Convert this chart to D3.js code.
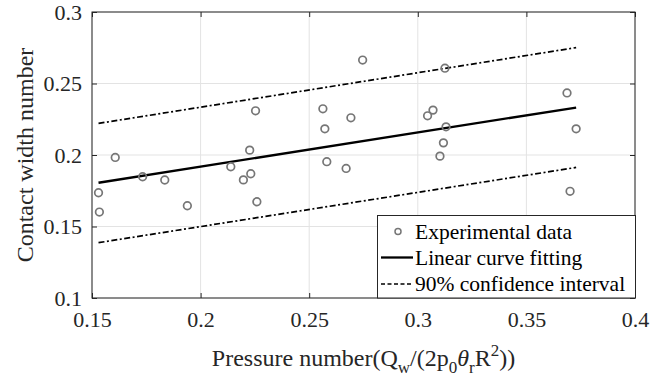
<!DOCTYPE html>
<html>
<head>
<meta charset="utf-8">
<script src="https://cdn.jsdelivr.net/npm/d3@7"></script>
<style>
    body { margin: 0; background: #fff; }
    svg text { font-family: 'Liberation Serif', 'Times New Roman', Times, serif; }
</style>
</head>
<body>
<svg id="chart" width="651" height="383"></svg>
<script>
// experimental points (pressure number, contact width number)
var pressureNum = [0.1530, 0.1534, 0.1607, 0.1733, 0.1835, 0.1939, 0.2139, 0.2226, 0.2197,
    0.2231, 0.2259, 0.2253, 0.2563, 0.2572, 0.2581, 0.2670, 0.2692, 0.2746, 0.3045,
    0.3070, 0.3102, 0.3118, 0.3125, 0.3130, 0.3687, 0.3701, 0.3729];
var contactWidth = [0.1736, 0.1601, 0.1983, 0.1848, 0.1825, 0.1645, 0.1918, 0.2034, 0.1826,
    0.1869, 0.1673, 0.2309, 0.2323, 0.2183, 0.1953, 0.1906, 0.2260, 0.2664, 0.2274,
    0.2314, 0.1992, 0.2085, 0.2607, 0.2197, 0.2434, 0.1746, 0.2183];

// fitted line and 90% band, end points
var fitX = [0.1530, 0.3729];
var fitY = [0.1806, 0.2332];
var upperY = [0.2221, 0.2751];
var lowerY = [0.1387, 0.1913];

var xTicks = [0.15, 0.2, 0.25, 0.3, 0.35, 0.4];
var yTicks = [0.1, 0.15, 0.2, 0.25, 0.3];
var legendLabels = ["Experimental data", "Linear curve fitting", "90% confidence interval"];

var svg = d3.select("#chart");
var pLeft = 92, pRight = 635, pTop = 12, pBottom = 298;
var axisColor = "#262626";
var serif = "'Liberation Serif', 'Times New Roman', serif";

var x = d3.scaleLinear().domain([0.15, 0.4]).range([pLeft, pRight]);
var y = d3.scaleLinear().domain([0.1, 0.3]).range([pBottom, pTop]);

// grid
svg.append("g").selectAll("line").data(xTicks).enter().append("line")
    .attr("x1", function(d){ return x(d); }).attr("x2", function(d){ return x(d); })
    .attr("y1", pTop).attr("y2", pBottom)
    .style("stroke", "#e3e3e3").style("stroke-width", 1);
svg.append("g").selectAll("line").data(yTicks).enter().append("line")
    .attr("x1", pLeft).attr("x2", pRight)
    .attr("y1", function(d){ return y(d); }).attr("y2", function(d){ return y(d); })
    .style("stroke", "#e3e3e3").style("stroke-width", 1);

// axes, ticks inward on all four sides
function styleAxis(g){
    g.attr("font-family", serif).attr("font-size", 22);
    g.select(".domain").remove();
    g.selectAll("line").style("stroke", axisColor);
    g.selectAll("text").style("fill", axisColor);
}
var fmt = function(d){ return String(+d.toFixed(2)); };

svg.append("g").attr("transform", "translate(0," + pBottom + ")")
    .call(d3.axisBottom(x).tickValues(xTicks).tickSize(-5).tickPadding(13).tickFormat(fmt))
    .call(styleAxis);
svg.append("g").attr("transform", "translate(" + pLeft + ",0)")
    .call(d3.axisLeft(y).tickValues(yTicks).tickSize(-5).tickPadding(10).tickFormat(fmt))
    .call(styleAxis);
svg.append("g").attr("transform", "translate(0," + pTop + ")")
    .call(d3.axisTop(x).tickValues(xTicks).tickSize(-5).tickFormat(""))
    .call(styleAxis);
svg.append("g").attr("transform", "translate(" + pRight + ",0)")
    .call(d3.axisRight(y).tickValues(yTicks).tickSize(-5).tickFormat(""))
    .call(styleAxis);

svg.append("rect")
    .attr("x", pLeft).attr("y", pTop)
    .attr("width", pRight - pLeft).attr("height", pBottom - pTop)
    .style("fill", "none").style("stroke", axisColor).style("stroke-width", 1);

// lines
var line = d3.line()
    .x(function(d){ return x(d[0]); })
    .y(function(d){ return y(d[1]); });

svg.append("path")
    .attr("d", line(d3.zip(fitX, upperY)))
    .style("fill", "none").style("stroke", "#000").style("stroke-width", 1.7)
    .style("stroke-dasharray", "6,2.5,2,2.5");
svg.append("path")
    .attr("d", line(d3.zip(fitX, lowerY)))
    .style("fill", "none").style("stroke", "#000").style("stroke-width", 1.7)
    .style("stroke-dasharray", "6,2.5,2,2.5");
svg.append("path")
    .attr("d", line(d3.zip(fitX, fitY)))
    .style("fill", "none").style("stroke", "#000").style("stroke-width", 2.3);

// points
svg.append("g").selectAll("circle").data(d3.zip(pressureNum, contactWidth)).enter().append("circle")
    .attr("cx", function(d){ return x(d[0]); })
    .attr("cy", function(d){ return y(d[1]); })
    .attr("r", 3.8)
    .style("fill", "none").style("stroke", "#767676").style("stroke-width", 1.7);

// legend
var legend = svg.append("g");
legend.append("rect")
    .attr("x", 377.5).attr("y", 215.5).attr("width", 258).attr("height", 82.5)
    .style("fill", "#fff").style("stroke", axisColor).style("stroke-width", 1);

var rowY = [231.5, 257.5, 284];
legend.append("circle")
    .attr("cx", 398).attr("cy", rowY[0]).attr("r", 3)
    .style("fill", "none").style("stroke", "#767676").style("stroke-width", 1.5);
legend.append("line")
    .attr("x1", 381).attr("x2", 413).attr("y1", rowY[1]).attr("y2", rowY[1])
    .style("stroke", "#000").style("stroke-width", 2.3);
legend.append("line")
    .attr("x1", 381).attr("x2", 413).attr("y1", rowY[2]).attr("y2", rowY[2])
    .style("stroke", "#000").style("stroke-width", 1.5)
    .style("stroke-dasharray", "4,2.5");

legend.selectAll("text.lab").data(legendLabels).enter().append("text")
    .attr("class", "lab")
    .attr("x", 415)
    .attr("y", function(d, i){ return rowY[i] + 7; })
    .style("font-size", "21.5px").style("fill", "#000")
    .text(function(d){ return d; });

// axis titles
svg.append("text")
    .attr("transform", "translate(33," + ((pTop + pBottom) / 2) + ") rotate(-90)")
    .attr("text-anchor", "middle")
    .style("font-size", "24px").style("fill", axisColor)
    .text("Contact width number");

var xt = svg.append("text")
    .attr("x", (pLeft + pRight) / 2).attr("y", 366)
    .attr("text-anchor", "middle")
    .style("font-size", "24px").style("fill", axisColor);
xt.append("tspan").text("Pressure number(Q");
xt.append("tspan").attr("dy", 7).style("font-size", "17px").text("w");
xt.append("tspan").attr("dy", -7).text("/(2p");
xt.append("tspan").attr("dy", 7).style("font-size", "17px").text("0");
xt.append("tspan").attr("dy", -7).style("font-style", "italic").text("θ");
xt.append("tspan").attr("dy", 7).style("font-size", "17px").text("r");
xt.append("tspan").attr("dy", -7).text("R");
xt.append("tspan").attr("dy", -10).style("font-size", "17px").text("2");
xt.append("tspan").attr("dy", 10).text("))");
</script>
</body>
</html>
